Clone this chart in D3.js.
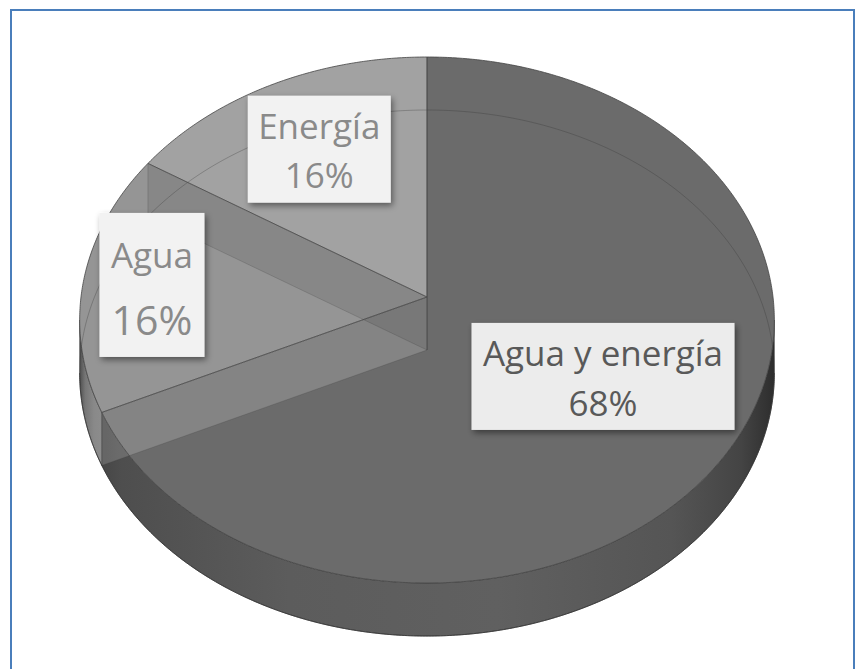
<!DOCTYPE html>
<html>
<head>
<meta charset="utf-8">
<script src="https://cdn.jsdelivr.net/npm/d3@7/dist/d3.min.js"></script>
<style>
  html, body { margin: 0; padding: 0; background: #ffffff; }
  svg { display: block; }
</style>
</head>
<body>
<svg id="chart" width="856" height="669"></svg>
<script>
// ---- data ----
const categories = ["Agua y energía", "Agua", "Energía"];
const shares = [68, 16, 16];
const percentLabels = ["68%", "16%", "16%"];

// ---- geometry of the tilted disk (perspective projection) ----
const cx = 427, cyTop = 297;      // projected centre of the top face
const A = 346, B = 261;           // horizontal / vertical radius factors
const k = 0.0875;                 // perspective strength
const depth = 53;                 // thickness of the disk

function proj(theta, r = 1, h = 0) {
  const w = 1 + k * r * Math.cos(theta);
  return [cx + A * r * Math.sin(theta) / w,
          cyTop - B * r * Math.cos(theta) / w + h * depth];
}
function rim(a0, a1, h, r = 1) {
  const n = Math.max(2, Math.ceil(Math.abs(a1 - a0) / 0.008));
  return d3.range(n + 1).map(i => proj(a0 + (a1 - a0) * i / n, r, h));
}
const line = d3.line();
const closed = pts => line(pts) + "Z";

const svg = d3.select("#chart");

// frame
svg.append("rect")
  .attr("x", 11).attr("y", 10).attr("width", 843).attr("height", 700)
  .attr("fill", "#ffffff").attr("stroke", "#4a7ebb").attr("stroke-width", 2);

const data = categories.map((c, i) => ({ name: c, value: shares[i], pct: percentLabels[i] }));
const pie = d3.pie().sort(null).value(d => d.value);
const arcs = pie(data);

const topColors = ["#6b6b6b", "#959595", "#a2a2a2"];

// gradients for the outer wall
const defs = svg.append("defs");
const gDark = defs.append("linearGradient").attr("id", "wallDark")
  .attr("gradientUnits", "userSpaceOnUse").attr("x1", 80).attr("x2", 776).attr("y1", 0).attr("y2", 0);
[[0, "#3e3e3e"], [0.06, "#4e4e4e"], [0.3, "#5c5c5c"], [0.6, "#606060"], [0.85, "#555555"], [0.95, "#444444"], [1, "#2c2c2c"]]
  .forEach(([o, c]) => gDark.append("stop").attr("offset", o).attr("stop-color", c));
const gLight = defs.append("linearGradient").attr("id", "wallLight")
  .attr("gradientUnits", "userSpaceOnUse").attr("x1", 79).attr("x2", 104).attr("y1", 0).attr("y2", 0);
[[0, "#4a4a4a"], [0.25, "#767676"], [0.6, "#898989"], [1, "#8d8d8d"]]
  .forEach(([o, c]) => gLight.append("stop").attr("offset", o).attr("stop-color", c));

const shadow = defs.append("filter").attr("id", "shadow")
  .attr("x", "-20%").attr("y", "-20%").attr("width", "140%").attr("height", "140%");
shadow.append("feDropShadow").attr("dx", 2).attr("dy", 3).attr("stdDeviation", 3)
  .attr("flood-color", "#000").attr("flood-opacity", 0.45);

// silhouette angles of the front wall
const thR = Math.acos(-k);
const thL = 2 * Math.PI - thR;

// 1. front outer walls
const wallLayer = svg.append("g");
arcs.forEach((a, i) => {
  const s = Math.max(a.startAngle, thR), e = Math.min(a.endAngle, thL);
  if (e <= s) return;
  const pts = rim(s, e, 0).concat(rim(e, s, 1));
  wallLayer.append("path")
    .attr("d", closed(pts))
    .attr("fill", i === 0 ? "url(#wallDark)" : "url(#wallLight)")
    .attr("stroke", "#3a3a3a").attr("stroke-width", 0.8).attr("stroke-opacity", 0.7);
});

// 2. top faces
const apex = proj(0, 0, 0);
const topLayer = svg.append("g");
arcs.forEach((a, i) => {
  const pts = [apex].concat(rim(a.startAngle, a.endAngle, 0));
  topLayer.append("path").attr("d", closed(pts)).attr("fill", topColors[i]);
});

// 3. inner cut walls seen through the translucent faces
const seeThrough = svg.append("g");
arcs.forEach(a => {
  const phi = a.startAngle;
  const quad = [proj(0, 0, 0), proj(0, 0, 1), proj(phi, 1, 1), proj(phi, 1, 0)];
  const facing = Math.cos(phi) < 0;
  seeThrough.append("path").attr("d", closed(quad))
    .attr("fill", facing ? "#ffffff" : "#000000")
    .attr("fill-opacity", facing ? 0.17 : 0.09)
    .attr("stroke", "#333").attr("stroke-width", 0.8).attr("stroke-opacity", 0.25);
});
// back part of the bottom rim
seeThrough.append("path")
  .attr("d", line(rim(thL, thR + 2 * Math.PI, 1)))
  .attr("fill", "none").attr("stroke", "#333").attr("stroke-width", 1).attr("stroke-opacity", 0.3);

// 4. edges
const edges = svg.append("g").attr("fill", "none");
edges.append("path").attr("d", closed(rim(0, 2 * Math.PI, 0)))
  .attr("stroke", "#454545").attr("stroke-width", 1).attr("stroke-opacity", 0.8);
edges.append("path").attr("d", line(rim(thR, thL, 1)))
  .attr("stroke", "#333").attr("stroke-width", 1).attr("stroke-opacity", 0.8);
arcs.forEach(a => {
  edges.append("path").attr("d", line([apex, proj(a.startAngle, 1, 0)]))
    .attr("stroke", "#4a4a4a").attr("stroke-width", 1).attr("stroke-opacity", 0.85);
});

// 5. data labels
const labelLayout = [
  { r: 0.56, dx: 8, dy: -1, w: 263, h: 107, lines: [{ y: 43, size: 35 }, { y: 93, size: 35 }], box: "#ececec", ink: "#595959" },
  { r: 0.80, dx: 0, dy: 1,  w: 105, h: 144, lines: [{ y: 55, size: 35 }, { y: 122, size: 41 }], box: "#f2f2f2", ink: "#8a8a8a" },
  { r: 0.68, dx: 0, dy: 0,  w: 143, h: 107, lines: [{ y: 43, size: 35 }, { y: 92, size: 35 }], box: "#f2f2f2", ink: "#8a8a8a" }
];
const labelLayer = svg.append("g");
arcs.forEach((a, i) => {
  const L = labelLayout[i];
  const mid = (a.startAngle + a.endAngle) / 2;
  const [px, py] = proj(mid, L.r, 0);
  const x0 = px + L.dx - L.w / 2, y0 = py + L.dy - L.h / 2;
  const g = labelLayer.append("g").attr("transform", `translate(${x0},${y0})`);
  g.append("rect").attr("width", L.w).attr("height", L.h)
    .attr("fill", L.box).attr("filter", "url(#shadow)");
  [a.data.name, a.data.pct].forEach((t, j) => {
    g.append("text")
      .attr("x", L.w / 2).attr("y", L.lines[j].y)
      .attr("text-anchor", "middle")
      .attr("font-family", "'Open Sans', 'Noto Sans', sans-serif")
      .attr("font-size", L.lines[j].size)
      .attr("fill", L.ink)
      .text(t);
  });
});
</script>
</body>
</html>
